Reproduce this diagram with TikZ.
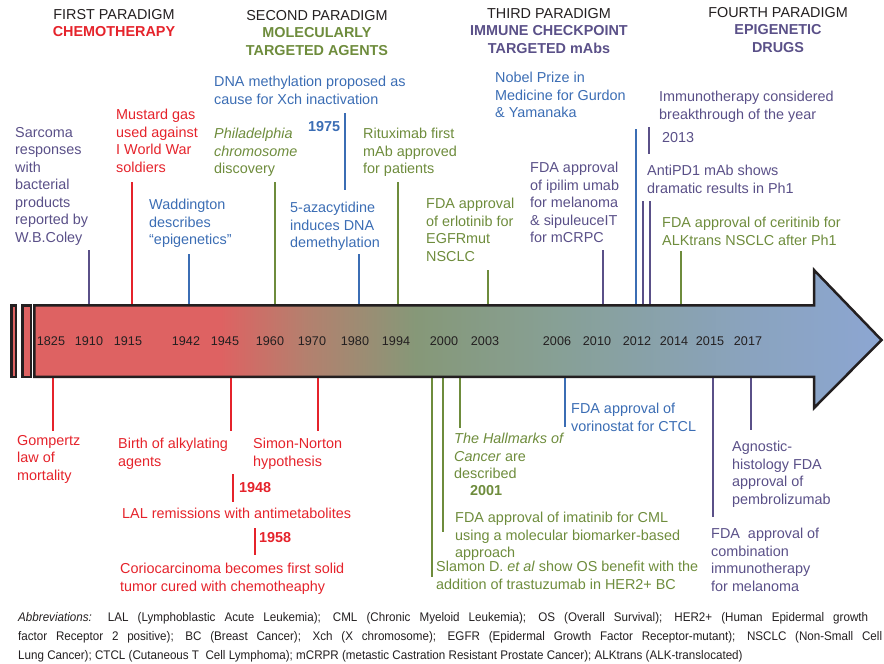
\documentclass[tikz,border=0pt]{standalone}
\usepackage{fontspec}
\setmainfont{Liberation Sans}
\newfontfamily\abbrfont[FakeStretch=0.93]{Liberation Sans}
\definecolor{cred}{HTML}{E5232B}
\definecolor{cgreen}{HTML}{6E8C3C}
\definecolor{cblue}{HTML}{3B6DB4}
\definecolor{cpurple}{HTML}{5A5088}
\definecolor{cblack}{HTML}{231F20}
\definecolor{shR}{RGB}{222,98,98}
\definecolor{shM}{RGB}{180,128,110}
\definecolor{shG}{RGB}{134,152,120}
\definecolor{shS}{RGB}{135,160,150}
\definecolor{shT}{RGB}{138,163,190}
\definecolor{shB}{RGB}{140,166,210}
\pgfdeclarehorizontalshading{tlshade}{100bp}{color(0bp)=(shR); color(36bp)=(shR); color(41bp)=(shM); color(47.5bp)=(shG); color(56bp)=(shS); color(67bp)=(shT); color(75bp)=(shB); color(100bp)=(shB)}
\begin{document}
\begin{tikzpicture}[x=1pt,y=-1pt,
  lbl/.style={anchor=north west, inner sep=0pt, align=left, font=\fontsize{14.4}{17.5}\selectfont},
  ttl/.style={anchor=north, inner sep=0pt, align=center, font=\fontsize{14.4}{17.5}\selectfont, text=cblack},
  yr/.style={anchor=base, inner sep=0pt, font=\fontsize{12.6}{15}\selectfont, text=cblack},
  tk/.style={line width=2.4pt},
  outl/.style={draw=cblack, line width=2.5pt, line join=miter}]
\useasboundingbox (0,0) rectangle (884,664);

% ---- titles ----
\node[ttl] (t1) at (114,9) {FIRST PARADIGM\\\textcolor{cred}{\textbf{CHEMOTHERAPY}}};
\node[ttl] (t2) at (317,10) {SECOND PARADIGM\\\textcolor{cgreen}{\textbf{MOLECULARLY}}\\\textcolor{cgreen}{\textbf{TARGETED AGENTS}}};
\node[ttl] (t3) at (549,8) {THIRD PARADIGM\\\textcolor{cpurple}{\textbf{IMMUNE CHECKPOINT}}\\\textcolor{cpurple}{\textbf{TARGETED mAbs}}};
\node[ttl] (t4) at (778,7) {FOURTH PARADIGM\\\textcolor{cpurple}{\textbf{EPIGENETIC}}\\\textcolor{cpurple}{\textbf{DRUGS}}};

% ---- upper ticks ----
\draw[tk, cpurple] (89,250) -- (89,305);
\draw[tk, cred] (132,182) -- (132,305);
\draw[tk, cblue] (189,254) -- (189,305);
\draw[tk, cgreen] (275,182) -- (275,305);
\draw[tk, cblue] (345,113) -- (345,190);
\draw[tk, cblue] (359,254) -- (359,305);
\draw[tk, cgreen] (398,182) -- (398,305);
\draw[tk, cgreen] (488,270) -- (488,305);
\draw[tk, cpurple] (603,250) -- (603,305);
\draw[tk, cblue] (636,129) -- (636,305);
\draw[tk, cpurple] (643,201) -- (643,305);
\draw[tk, cpurple] (650,201) -- (650,305);
\draw[tk, cpurple] (649,127) -- (649,154);
\draw[tk, cgreen] (681,251) -- (681,305);

% ---- lower ticks ----
\draw[tk, cred] (53,377) -- (53,431);
\draw[tk, cred] (231,377) -- (231,431);
\draw[tk, cred] (318,377) -- (318,431);
\draw[tk, cred] (233,474) -- (233,502);
\draw[tk, cred] (255,528) -- (255,555);
\draw[tk, cgreen] (432,377) -- (432,577);
\draw[tk, cgreen] (443,377) -- (443,532);
\draw[tk, cgreen] (460,377) -- (460,428);
\draw[tk, cblue] (565,377) -- (565,427);
\draw[tk, cpurple] (713,377) -- (713,517);
\draw[tk, cpurple] (751,377) -- (751,430);

% ---- timeline arrow ----
\draw[outl, fill=shR] (11.25,305.25) rectangle (15.75,376.75);
\draw[outl, fill=shR] (22.25,305.25) rectangle (30.75,376.75);
\draw[outl, shading=tlshade] (34.25,305.25) -- (814,305.25) -- (814,270) -- (881.5,340) -- (814,408) -- (814,376.75) -- (34.25,376.75) -- cycle;

% ---- years ----
\foreach \yv/\xv in {1825/51,1910/89,1915/128,1942/186,1945/225,1960/270,1970/312,1980/355,1994/396,2000/444,2003/485,2006/557,2010/597,2012/637,2014/674,2015/710,2017/748}
  \node[yr] (y\yv) at (\xv,345.5) {\yv};

% ---- upper labels ----
\node[lbl, text=cpurple] (coley) at (15,127) {Sarcoma\\responses\\with\\bacterial\\products\\reported by\\W.B.Coley};
\node[lbl, text=cred] (mustard) at (116,109) {Mustard gas\\used against\\I World War\\soldiers};
\node[lbl, text=cblue] (dnameth) at (214,76) {DNA methylation proposed as\\cause for Xch inactivation};
\node[lbl, text=cgreen] (phila) at (214,128) {\textit{Philadelphia}\\\textit{chromosome}\\discovery};
\node[lbl, text=cblue] (wadd) at (149,199) {Waddington\\describes\\“epigenetics”};
\node[lbl, text=cblue] (y1975) at (308,121) {\textbf{1975}};
\node[lbl, text=cgreen] (ritux) at (363,128) {Rituximab first\\mAb approved\\for patients};
\node[lbl, text=cblue] (aza) at (290,202) {5-azacytidine\\induces DNA\\demethylation};
\node[lbl, text=cgreen] (erlo) at (426,198) {FDA approval\\of erlotinib for\\EGFRmut\\NSCLC};
\node[lbl, text=cblue] (nobel) at (495,72) {Nobel Prize in\\Medicine for Gurdon\\\& Yamanaka};
\node[lbl, text=cpurple] (immuno) at (659,91) {Immunotherapy considered\\breakthrough of the year};
\node[lbl, text=cpurple] (y2013) at (662,132) {2013};
\node[lbl, text=cpurple] (ipi) at (530,162) {FDA approval\\of ipilim umab\\for melanoma\\\& sipuleuceIT\\for mCRPC};
\node[lbl, text=cpurple] (pd1) at (647,165) {AntiPD1 mAb shows\\dramatic results in Ph1};
\node[lbl, text=cgreen] (ceri) at (662,217) {FDA approval of ceritinib for\\ALKtrans NSCLC after Ph1};

% ---- lower labels ----
\node[lbl, text=cred] (gomp) at (17,435) {Gompertz\\law of\\mortality};
\node[lbl, text=cred] (alky) at (118,438) {Birth of alkylating\\agents};
\node[lbl, text=cred] (simon) at (253,438) {Simon-Norton\\hypothesis};
\node[lbl, text=cred] (y1948) at (239,482) {\textbf{1948}};
\node[lbl, text=cred] (lal) at (122,508) {LAL remissions with antimetabolites};
\node[lbl, text=cred] (y1958) at (259,532) {\textbf{1958}};
\node[lbl, text=cred] (corio) at (120,563) {Coriocarcinoma becomes first solid\\tumor cured with chemotheaphy};
\node[lbl, text=cgreen] (hall) at (454,433) {\textit{The Hallmarks of}\\\textit{Cancer} are\\described};
\node[lbl, text=cgreen] (y2001) at (470,485) {\textbf{2001}};
\node[lbl, text=cblue] (vori) at (571,403) {FDA approval of\\vorinostat for CTCL};
\node[lbl, text=cgreen] (imat) at (455,512) {FDA approval of imatinib for CML\\using a molecular biomarker-based\\approach};
\node[lbl, text=cgreen] (slamon) at (436,561) {Slamon D. \textit{et al} show OS benefit with the\\addition of trastuzumab in HER2+ BC};
\node[lbl, text=cpurple] (agno) at (732,441) {Agnostic-\\histology FDA\\approval of\\pembrolizumab};
\node[lbl, text=cpurple] (combo) at (711,528) {FDA\ \ approval of\\combination\\immunotherapy\\for melanoma};

% ---- abbreviations ----
\node[anchor=north west, inner sep=0pt, align=left, text=cblack, font=\abbrfont\fontsize{12.5}{19.3}\selectfont] (abbr) at (18,612)
{\makebox[850pt][s]{\textit{Abbreviations:} LAL (Lymphoblastic Acute Leukemia); CML (Chronic Myeloid Leukemia); OS (Overall Survival); HER2+ (Human Epidermal growth}\\
\makebox[864pt][s]{factor Receptor 2 positive); BC (Breast Cancer); Xch (X chromosome); EGFR (Epidermal Growth Factor Receptor-mutant); NSCLC (Non-Small Cell}\\
Lung Cancer); CTCL (Cutaneous T\ \ Cell Lymphoma); mCRPR (metastic Castration Resistant Prostate Cancer); ALKtrans (ALK-translocated)};
\end{tikzpicture}
\end{document}
